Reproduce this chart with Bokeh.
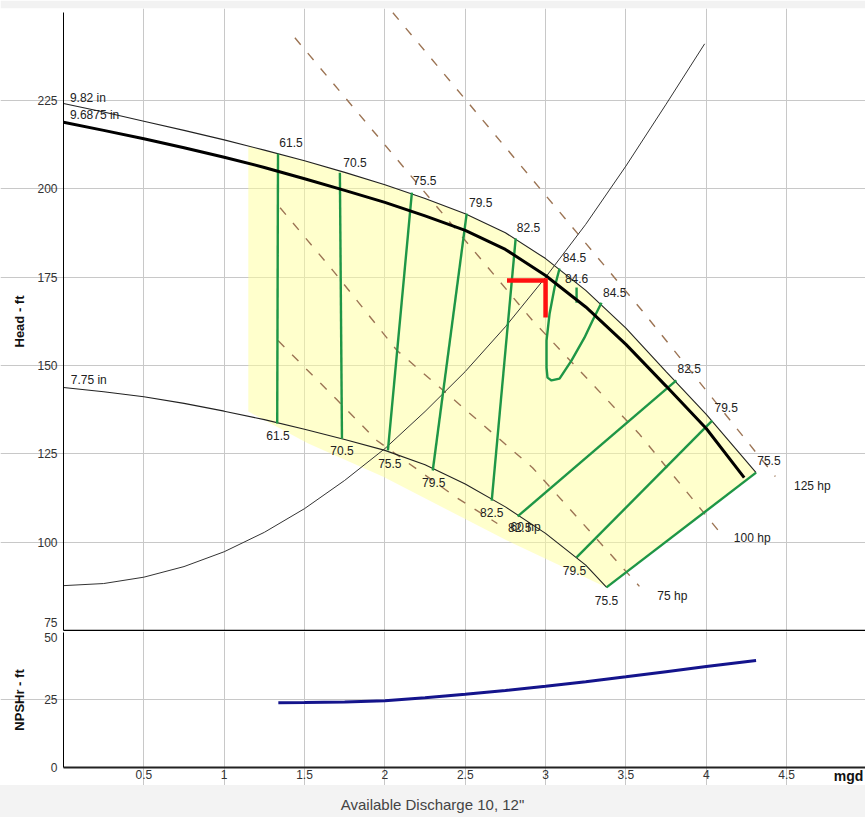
from bokeh.plotting import figure
from bokeh.models import ColumnDataSource, FixedTicker, NumeralTickFormatter, CustomJSTickFormatter, Div
from bokeh.layouts import column
from bokeh.embed import file_html
from bokeh.resources import INLINE
from bokeh.core.properties import value

FONT = "Liberation Sans"

# ---------------- data (flow in mgd, head in ft) ----------------
imp982_x = [0.0, 0.25, 0.5, 0.75, 1.0, 1.25, 1.5, 1.75, 2.0, 2.25, 2.5, 2.75, 3.0, 3.25, 3.5, 3.75, 4.0, 4.31]
imp982_y = [224.2, 221.8, 219.2, 216.6, 213.9, 211.0, 208.0, 204.7, 201.2, 197.3, 193.0, 187.6, 180.3, 171.3,
            160.6, 148.3, 136.2, 119.7]

imp96875_x = [0.0, 0.25, 0.5, 0.75, 1.0, 1.25, 1.5, 1.75, 2.0, 2.25, 2.5, 2.75, 3.0, 3.25, 3.5, 3.75, 4.0, 4.236]
imp96875_y = [218.9, 216.6, 214.2, 211.7, 209.0, 206.1, 202.9, 199.6, 196.2, 192.4, 188.3, 182.9, 175.5, 166.6,
              156.0, 144.2, 132.2, 118.3]

imp775_x = [0.0, 0.25, 0.5, 0.75, 1.0, 1.25, 1.5, 1.75, 2.0, 2.25, 2.5, 2.75, 3.0, 3.25, 3.38]
imp775_y = [143.8, 142.6, 141.2, 139.3, 137.1, 134.7, 132.0, 129.1, 126.0, 121.9, 116.5, 110.0, 102.5, 93.5, 87.2]

system_x = [0.0, 0.25, 0.5, 0.75, 1.0, 1.25, 1.5, 1.75, 2.0, 2.25, 2.5, 2.75, 3.0, 3.25, 3.5, 3.75, 3.99]
system_y = [87.7, 88.3, 90.1, 93.1, 97.3, 102.8, 109.5, 117.5, 126.5, 137.0, 148.3, 161.0, 175.0, 190.0,
            206.5, 224.0, 241.1]

region_left_x = 1.15
region_left_top = 212.1
region_lower_x = [3.38, 2.76, 1.99, 1.52, 1.15]
region_lower_y = [87.2, 100.5, 118.5, 128.0, 137.0]

eff_x = [[1.335, 1.33], [1.72, 1.733], [2.168, 2.019], [2.509, 2.298], [2.814, 2.665],
         [3.087, 3.056, 3.025, 3.006, 3.006, 3.012, 3.037, 3.087, 3.161, 3.242, 3.292, 3.348],
         [3.193, 3.193], [3.814, 2.826], [4.037, 3.193], [4.31, 3.379]]
eff_y = [[210.0, 133.6], [204.6, 129.3], [199.0, 126.0], [193.0, 120.3], [186.0, 111.8],
         [177.5, 172.1, 164.7, 157.1, 149.4, 146.6, 145.8, 146.3, 151.4, 157.9, 162.7, 167.8],
         [172.1, 167.8], [145.8, 107.3], [134.4, 95.7], [119.7, 87.2]]

hp_x = [[2.05, 3.60, 4.43], [1.44, 2.92, 3.58, 4.09],
        [1.348, 1.677, 2.075, 2.919, 3.584], [1.335, 1.702, 1.95, 2.447, 2.70]]
hp_y = [[249.9, 165.6, 118.6], [242.8, 162.7, 130.8, 102.5],
        [194.7, 176.9, 154.3, 121.1, 87.5], [157.1, 140.3, 128.8, 112.6, 105.3]]

eff_label_text = ["61.5", "70.5", "75.5", "79.5", "82.5", "84.5", "84.6", "84.5", "82.5", "79.5", "75.5",
                  "61.5", "70.5", "75.5", "79.5", "82.5", "82.5", "79.5", "75.5",
                  "60 hp", "75 hp", "100 hp", "125 hp"]
eff_label_x = [1.416, 1.814, 2.248, 2.596, 2.894, 3.18, 3.193, 3.43, 3.894, 4.124, 4.39,
               1.335, 1.733, 2.031, 2.304, 2.665, 2.839, 3.18, 3.379,
               2.876, 3.789, 4.286, 4.66]
eff_label_y = [213.1, 207.5, 202.4, 196.1, 189.1, 180.6, 174.6, 170.7, 149.2, 138.1, 123.1,
               130.2, 126.0, 122.3, 116.9, 108.4, 104.2, 92.0, 83.5,
               104.2, 84.9, 101.3, 115.8]

curve_label_text = ["9.82 in", "9.6875 in", "7.75 in"]
curve_label_x = [0.04, 0.04, 0.045]
curve_label_y = [225.9, 220.9, 145.8]

duty_x = [2.76, 3.0, 3.0]
duty_y = [174.1, 174.1, 163.6]

npsh_x = [1.337, 1.5, 1.75, 2.0, 2.25, 2.5, 2.75, 3.0, 3.25, 3.5, 3.75, 4.0, 4.31]
npsh_y = [24.0, 24.1, 24.3, 24.7, 25.8, 27.1, 28.5, 30.1, 31.8, 33.6, 35.5, 37.4, 39.6]

x_ticks = [0.5, 1, 1.5, 2, 2.5, 3, 3.5, 4, 4.5]
head_grid = [100, 125, 150, 175, 200, 225]
head_label_ticks = [77.3, 100, 125, 150, 175, 200, 225]   # bottom label "75" sits just above the frame edge
npsh_label_ticks = [0, 25, 48]                          # top label "50" sits just below the divider
X_MAX = 4.991

round25 = CustomJSTickFormatter(code="return String(Math.round(tick / 25) * 25);")


def style_yaxis(ax, label, standoff):
    ax.fixed_location = 0
    ax.axis_label = label
    ax.axis_label_text_font = FONT
    ax.axis_label_text_font_style = "bold"
    ax.axis_label_text_font_size = "13px"
    ax.axis_label_text_color = "#111111"
    ax.axis_label_standoff = standoff
    ax.major_label_text_font = FONT
    ax.major_label_text_font_size = "12px"
    ax.major_label_text_color = "#333333"
    ax.major_label_standoff = 6
    ax.major_tick_out = 0
    ax.major_tick_in = 0
    ax.minor_tick_line_color = None
    ax.axis_line_color = "black"
    ax.formatter = round25


# ---------------- head chart ----------------
p1 = figure(width=865, height=631, x_range=(-0.392, X_MAX), y_range=(74.72, 251.1),
            output_backend="svg", toolbar_location=None,
            min_border_left=0, min_border_right=0, min_border_top=8, min_border_bottom=0)
p1.outline_line_color = None
p1.background_fill_color = "white"
p1.border_fill_color = "#f2f2f2"

for g in (p1.xgrid, p1.ygrid):
    g.grid_line_color = "#c8c8c8"
    g.grid_line_width = 1
p1.xgrid.ticker = FixedTicker(ticks=x_ticks)
p1.xgrid.bounds = (75, 250)
p1.ygrid.ticker = FixedTicker(ticks=head_grid)
p1.ygrid.bounds = (0, X_MAX)

p1.yaxis.ticker = FixedTicker(ticks=head_label_ticks)
p1.yaxis.bounds = (75, 250)
style_yaxis(p1.yaxis[0], "Head - ft", 7)

p1.xaxis.fixed_location = 75
p1.xaxis.bounds = (0, X_MAX)
p1.xaxis.ticker = FixedTicker(ticks=[])
p1.xaxis.major_tick_out = 0
p1.xaxis.major_tick_in = 0
p1.xaxis.minor_tick_out = 0
p1.xaxis.minor_tick_in = 0
p1.xaxis.axis_line_color = "black"
p1.xaxis.axis_line_width = 1.5

# operating region fill (upper edge follows the 9.82 in curve)
reg_x = [region_left_x] + [x for x in imp982_x if x > region_left_x] + region_lower_x
reg_y = [region_left_top] + [y for x, y in zip(imp982_x, imp982_y) if x > region_left_x] + region_lower_y
p1.patch(reg_x, reg_y, fill_color="#ffff99", fill_alpha=0.5, line_color=None)

# horsepower lines
p1.multi_line(hp_x, hp_y, line_color="#9c7454", line_width=1.4, line_dash="9 11")

# impeller and system curves
p1.line(imp982_x, imp982_y, line_color="#222222", line_width=1.1)
p1.line(imp775_x, imp775_y, line_color="#222222", line_width=1.1)
p1.line(system_x, system_y, line_color="#333333", line_width=1)

# efficiency lines
p1.multi_line(eff_x, eff_y, line_color="#1e9646", line_width=2.4)

p1.line(imp96875_x, imp96875_y, line_color="black", line_width=3)

# duty point marker
p1.line(duty_x, duty_y, line_color="#ff1010", line_width=4.5, line_join="miter")

src_lbl = ColumnDataSource(dict(x=eff_label_x, y=eff_label_y, t=eff_label_text))
p1.text(x="x", y="y", text="t", source=src_lbl, text_align="center", text_baseline="middle",
        text_font=value(FONT), text_font_size="12px", text_color="#222222")
src_cl = ColumnDataSource(dict(x=curve_label_x, y=curve_label_y, t=curve_label_text))
p1.text(x="x", y="y", text="t", source=src_cl, text_align="left", text_baseline="middle",
        text_font=value(FONT), text_font_size="12px", text_color="#222222")

# ---------------- NPSHr chart ----------------
p2 = figure(width=865, height=154, x_range=p1.x_range, y_range=(-6.67, 50.37),
            output_backend="svg", toolbar_location=None,
            min_border_left=0, min_border_right=0, min_border_top=0, min_border_bottom=0)
p2.outline_line_color = None
p2.background_fill_color = "white"
p2.border_fill_color = "white"
for g in (p2.xgrid, p2.ygrid):
    g.grid_line_color = "#c8c8c8"
    g.grid_line_width = 1
p2.xgrid.ticker = FixedTicker(ticks=x_ticks)
p2.xgrid.bounds = (0, 50)
p2.ygrid.ticker = FixedTicker(ticks=[25])
p2.ygrid.bounds = (0, X_MAX)

p2.yaxis.ticker = FixedTicker(ticks=npsh_label_ticks)
p2.yaxis.bounds = (0, 50)
style_yaxis(p2.yaxis[0], "NPSHr - ft", 14)

p2.xaxis.fixed_location = 0
p2.xaxis.bounds = (0, X_MAX)
p2.xaxis.ticker = FixedTicker(ticks=x_ticks)
p2.xaxis.formatter = NumeralTickFormatter(format="0.[0]")
p2.xaxis.major_label_text_font = FONT
p2.xaxis.major_label_text_font_size = "12px"
p2.xaxis.major_label_text_color = "#333333"
p2.xaxis.major_label_standoff = 3
p2.xaxis.major_tick_out = 0
p2.xaxis.major_tick_in = 0
p2.xaxis.minor_tick_line_color = None
p2.xaxis.axis_line_color = "#222222"
p2.xaxis.axis_line_width = 2

p2.text(x=[4.885], y=[-3.0], text=["mgd"], text_align="center", text_baseline="middle",
        text_font=value(FONT), text_font_size="14px", text_font_style="bold", text_color="#111111")

p2.line(npsh_x, npsh_y, line_color="#14148c", line_width=3)

footer = Div(text='<div style="width:865px;text-align:center;font-family:\'Liberation Sans\';font-size:15px;'
                  'line-height:17px;color:#444444;padding-top:11px;">Available Discharge 10, 12&quot;</div>',
             width=865, height=32, margin=0, styles={"background-color": "#f3f3f3"})

layout = column(p1, p2, footer, spacing=0)
open("out.html", "w").write(file_html(layout, INLINE))
